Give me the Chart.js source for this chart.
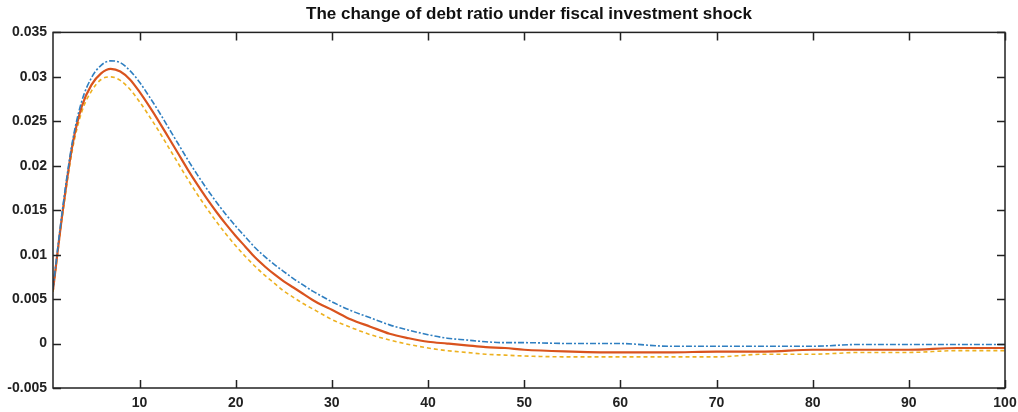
<!DOCTYPE html>
<html>
<head>
<meta charset="utf-8">
<script src="https://cdn.jsdelivr.net/npm/chart.js@4.4.1/dist/chart.umd.min.js"></script>
<style>
  html, body { margin: 0; padding: 0; background: #fff; }
  #wrap { width: 1018px; height: 412px; }
</style>
</head>
<body>
<div id="wrap"><canvas id="debtChart"></canvas></div>
<script>
// periods after the shock
var periods = [1, 2, 3, 4, 5, 6, 7, 8, 9, 10, 11, 12, 13, 14, 15, 16, 17, 18, 19, 20,
  21, 22, 23, 24, 25, 26, 27, 28, 29, 30, 32, 34, 36, 38, 40, 42, 44, 46, 48, 50,
  55, 60, 65, 70, 75, 80, 85, 90, 95, 100];

// upper band (blue, dash-dot)
var upper = [0.0062, 0.0152, 0.0226, 0.0273, 0.0299, 0.0313, 0.0318, 0.0316, 0.0307, 0.0294,
  0.0278, 0.0261, 0.0243, 0.0225, 0.0207, 0.0190, 0.0174, 0.0159, 0.0145, 0.0132,
  0.0120, 0.0108, 0.0098, 0.0089, 0.0081, 0.0073, 0.0066, 0.0059, 0.0053, 0.0047,
  0.0037, 0.0029, 0.0021, 0.0015, 0.0010, 0.0006, 0.0004, 0.0002, 0.0001, 0.0001,
  0.0000, 0.0000, -0.0003, -0.0003, -0.0003, -0.0003, -0.0001, -0.0001, -0.0001, -0.0001];

// mean response (red, solid)
var mean = [0.0060, 0.0148, 0.0222, 0.0267, 0.0291, 0.0304, 0.0309, 0.0306, 0.0297, 0.0283,
  0.0267, 0.0250, 0.0232, 0.0214, 0.0196, 0.0179, 0.0163, 0.0148, 0.0134, 0.0121,
  0.0109, 0.0097, 0.0087, 0.0078, 0.0070, 0.0063, 0.0056, 0.0049, 0.0043, 0.0038,
  0.0027, 0.0019, 0.0011, 0.0006, 0.0002, 0.0000, -0.0002, -0.0004, -0.0005, -0.0007,
  -0.0009, -0.0010, -0.0010, -0.0009, -0.0009, -0.0007, -0.0007, -0.0007, -0.0005, -0.0005];

// lower band (orange, dashed)
var lower = [0.0058, 0.0145, 0.0217, 0.0261, 0.0284, 0.0297, 0.0300, 0.0296, 0.0286, 0.0272,
  0.0256, 0.0239, 0.0221, 0.0203, 0.0185, 0.0168, 0.0152, 0.0137, 0.0123, 0.0110,
  0.0098, 0.0087, 0.0077, 0.0068, 0.0059, 0.0052, 0.0045, 0.0039, 0.0033, 0.0027,
  0.0018, 0.0010, 0.0004, -0.0001, -0.0005, -0.0008, -0.0010, -0.0012, -0.0013, -0.0014,
  -0.0015, -0.0015, -0.0015, -0.0015, -0.0012, -0.0012, -0.0010, -0.0010, -0.0008, -0.0008];

var xTicks = [10, 20, 30, 40, 50, 60, 70, 80, 90, 100];

function pts(arr) {
  return periods.map(function (p, i) { return { x: p, y: arr[i] }; });
}

// MATLAB-like box with inward ticks on all four sides
var boxTicks = {
  id: "boxTicks",
  afterDraw: function (chart) {
    var c = chart.ctx, a = chart.chartArea;
    var xs = chart.scales.x, ys = chart.scales.y;
    var len = 8;
    c.save();
    c.strokeStyle = "#222";
    c.lineWidth = 1.5;
    c.strokeRect(a.left, a.top, a.right - a.left, a.bottom - a.top);
    c.beginPath();
    xs.ticks.forEach(function (t) {
      var px = Math.round(xs.getPixelForValue(t.value)) + 0.5;
      c.moveTo(px, a.bottom); c.lineTo(px, a.bottom - len);
      c.moveTo(px, a.top); c.lineTo(px, a.top + len);
    });
    ys.ticks.forEach(function (t) {
      var py = Math.round(ys.getPixelForValue(t.value)) + 0.5;
      c.moveTo(a.left, py); c.lineTo(a.left + len, py);
      c.moveTo(a.right, py); c.lineTo(a.right - len, py);
    });
    c.stroke();
    c.restore();
  }
};

var ctx = document.getElementById("debtChart").getContext("2d");
var debtChart = new Chart(ctx, {
  type: "line",
  data: {
    datasets: [
      {
        label: "upper",
        data: pts(upper),
        borderColor: "#2f7fc1",
        borderWidth: 1.6,
        borderDash: [6, 2, 2, 2],
        pointRadius: 0,
        cubicInterpolationMode: "monotone"
      },
      {
        label: "mean",
        data: pts(mean),
        borderColor: "#d9531e",
        borderWidth: 2.2,
        pointRadius: 0,
        cubicInterpolationMode: "monotone"
      },
      {
        label: "lower",
        data: pts(lower),
        borderColor: "#edb120",
        borderWidth: 1.6,
        borderDash: [4, 3],
        pointRadius: 0,
        cubicInterpolationMode: "monotone"
      }
    ]
  },
  plugins: [boxTicks],
  options: {
    responsive: true,
    maintainAspectRatio: false,
    animation: false,
    layout: { padding: { left: 0, right: 0, top: 0, bottom: 0 } },
    plugins: {
      legend: { display: false },
      tooltip: { enabled: false },
      title: {
        display: true,
        fullSize: false,
        text: "The change of debt ratio under fiscal investment shock",
        color: "#111",
        font: { family: "'Liberation Sans', Arial, sans-serif", size: 17, weight: "bold" },
        padding: { top: 4, bottom: 8 }
      }
    },
    scales: {
      x: {
        type: "linear",
        min: 1,
        max: 100,
        afterBuildTicks: function (s) { s.ticks = xTicks.map(function (v) { return { value: v }; }); },
        afterFit: function (s) { s.height = 24; s.paddingRight = 13; s.paddingLeft = 0; },
        grid: { display: false, drawTicks: false },
        border: { display: false },
        ticks: {
          color: "#222",
          padding: 7,
          maxRotation: 0,
          font: { family: "'Liberation Sans', Arial, sans-serif", size: 14, weight: "bold" }
        }
      },
      y: {
        min: -0.005,
        max: 0.035,
        afterFit: function (s) { s.width = 53; s.paddingTop = 0; s.paddingBottom = 0; },
        grid: { display: false, drawTicks: false },
        border: { display: false },
        ticks: {
          stepSize: 0.005,
          color: "#222",
          padding: 6,
          font: { family: "'Liberation Sans', Arial, sans-serif", size: 14, weight: "bold" },
          callback: function (v) { return String(parseFloat(v.toFixed(3))); }
        }
      }
    }
  }
});
</script>
</body>
</html>
